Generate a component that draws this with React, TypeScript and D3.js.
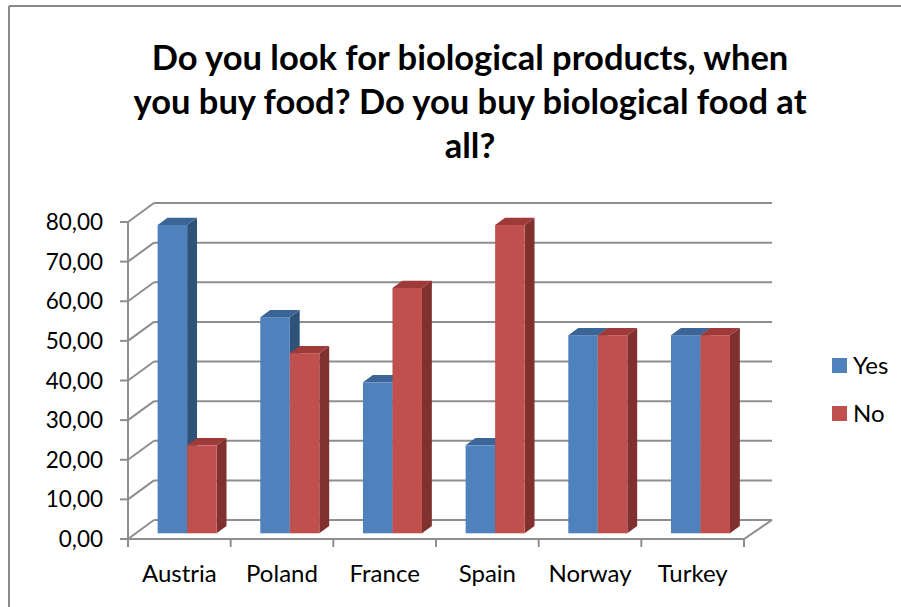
import React from "react";
import * as d3 from "d3";

const categories = ["Austria", "Poland", "France", "Spain", "Norway", "Turkey"];
const seriesNames = ["Yes", "No"];
const yesValues = [77.8, 54.55, 38.1, 22.2, 50, 50];
const noValues = [22.2, 45.45, 61.9, 77.8, 50, 50];
const yTicks = [0, 10, 20, 30, 40, 50, 60, 70, 80];
const titleLines = [
  "Do you look for biological products, when",
  "you buy food? Do you buy biological food at",
  "all?",
];

const W = 901;
const H = 607;
const FONT = "Lato, 'Open Sans', sans-serif";

const colors = [
  { front: "#4f81bd", side: "#2f5279", top: "#3c6597" },
  { front: "#c0504d", side: "#7f302f", top: "#9e3a38" },
];

export default function App() {
  const x0 = 128;
  const x1 = 744;
  const depthX = 26;
  const depthY = -19;
  const x = d3.scaleBand<string>().domain(categories).range([x0, x1]);
  const y = d3.scaleLinear().domain([0, 80]).range([539, 222]);
  const fmt = (v: number) => d3.format(".2f")(v).replace(".", ",");

  const bandW = x.bandwidth();
  const barW = 29.5;
  const tFront = 0.3;
  const tBack = 0.68;
  const fx = depthX * tFront;
  const fy = depthY * tFront;
  const sx = depthX * (tBack - tFront);
  const sy = depthY * (tBack - tFront);

  const series = [yesValues, noValues];

  const bars: React.ReactNode[] = [];
  categories.forEach((c, i) => {
    const cx = (x(c) as number) + bandW / 2;
    series.forEach((vals, s) => {
      const v = vals[i];
      const left = cx - barW + s * barW + fx;
      const right = left + barW;
      const bottom = y(0) + fy;
      const top = y(v) + fy;
      const col = colors[s];
      bars.push(
        <g key={c + s}>
          <polygon
            points={`${right},${bottom} ${right + sx},${bottom + sy} ${right + sx},${top + sy} ${right},${top}`}
            fill={col.side}
          />
          <polygon
            points={`${left},${top} ${right},${top} ${right + sx},${top + sy} ${left + sx},${top + sy}`}
            fill={col.top}
          />
          <rect x={left} y={top} width={barW} height={bottom - top} fill={col.front} />
        </g>
      );
    });
  });

  const gridColor = "#8e8e8e";

  return (
    <svg
      width={W}
      height={H}
      style={{ position: "absolute", left: 0, top: 0, background: "#fff" }}
    >
      <rect x={0} y={0} width={W} height={H} fill="#fff" />
      {/* outer border */}
      <line x1={9} y1={6} x2={9} y2={H} stroke="#8a8a8a" strokeWidth={2} />
      <line x1={9} y1={6} x2={W} y2={6} stroke="#8a8a8a" strokeWidth={2} />

      {/* title */}
      {titleLines.map((t, i) => (
        <text
          key={i}
          x={470}
          y={70 + i * 44}
          textAnchor="middle"
          fontFamily={FONT}
          fontWeight="bold"
          fontSize={34.5}
          fill="#000"
        >
          {t}
        </text>
      ))}

      {/* back wall gridlines and side wall diagonals */}
      {yTicks.map((t) => (
        <g key={t}>
          <line
            x1={x0 + depthX}
            y1={y(t) + depthY}
            x2={x1 + depthX + 2}
            y2={y(t) + depthY}
            stroke={gridColor}
            strokeWidth={2}
          />
          <line
            x1={x0}
            y1={y(t)}
            x2={x0 + depthX}
            y2={y(t) + depthY}
            stroke={gridColor}
            strokeWidth={2}
          />
          <line x1={x0 - 8} y1={y(t)} x2={x0} y2={y(t)} stroke={gridColor} strokeWidth={2} />
          <text
            x={103}
            y={y(t) + 8}
            textAnchor="end"
            fontFamily={FONT}
            fontSize={22.5}
            fill="#000"
          >
            {fmt(t)}
          </text>
        </g>
      ))}

      {/* floor right edge */}
      <line
        x1={x1}
        y1={y(0)}
        x2={x1 + depthX + 2}
        y2={y(0) + depthY}
        stroke={gridColor}
        strokeWidth={2}
      />
      {/* front y axis */}
      <line x1={x0} y1={y(0)} x2={x0} y2={y(80)} stroke={gridColor} strokeWidth={2} />
      {/* front x axis */}
      <line x1={x0} y1={y(0)} x2={x1} y2={y(0)} stroke={gridColor} strokeWidth={2} />
      {[...categories.map((c) => x(c) as number), x1].map((px, i) => (
        <line key={i} x1={px} y1={y(0)} x2={px} y2={y(0) + 8} stroke={gridColor} strokeWidth={2} />
      ))}

      {bars}

      {/* category labels */}
      {categories.map((c) => (
        <text
          key={c}
          x={(x(c) as number) + bandW / 2}
          y={582}
          textAnchor="middle"
          fontFamily={FONT}
          fontSize={24}
          fill="#000"
        >
          {c}
        </text>
      ))}

      {/* legend */}
      {seriesNames.map((n, i) => (
        <g key={n}>
          <rect x={832} y={358 + i * 48} width={15} height={15} fill={colors[i].front} />
          <text x={853} y={374 + i * 48} fontFamily={FONT} fontSize={24} fill="#000">
            {n}
          </text>
        </g>
      ))}
    </svg>
  );
}
